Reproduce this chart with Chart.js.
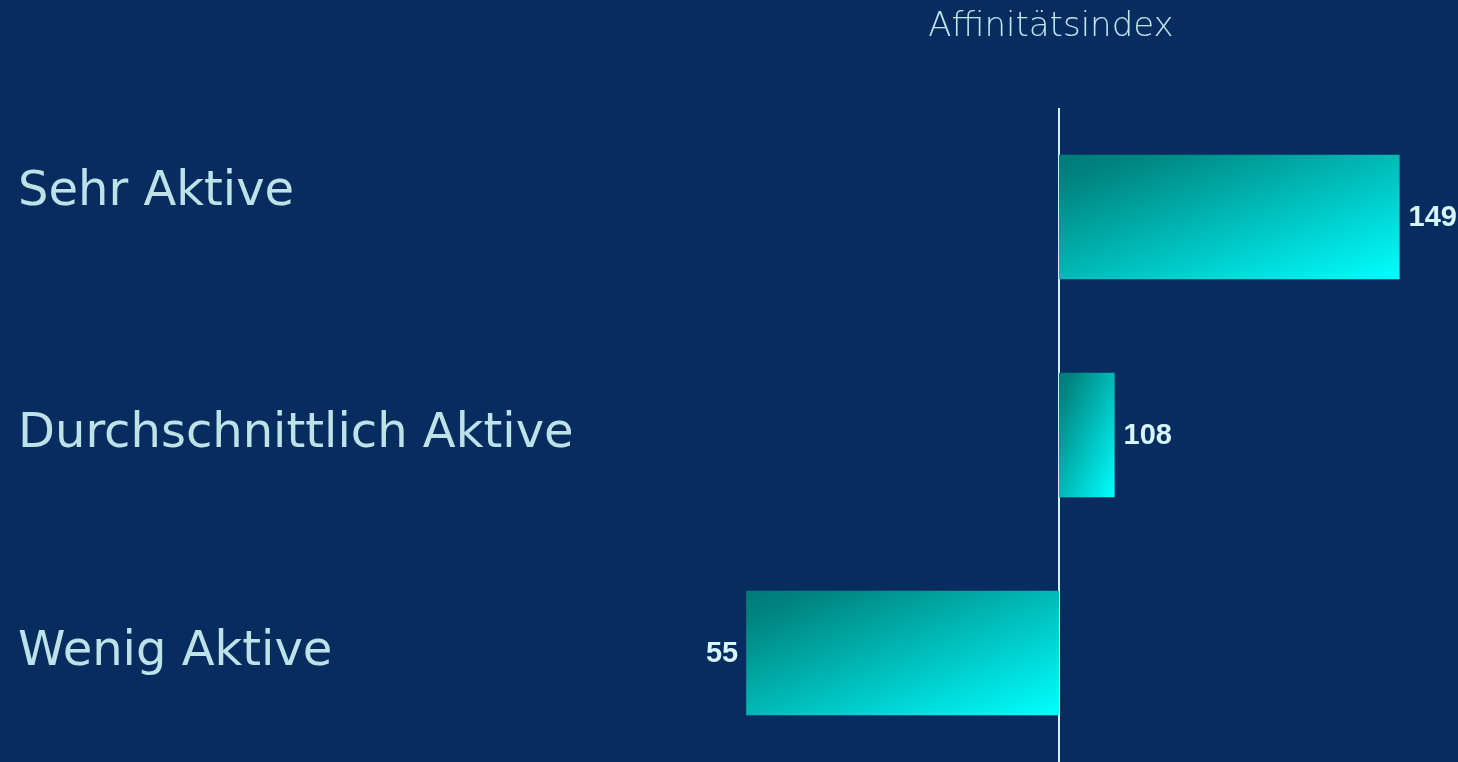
<!DOCTYPE html>
<html>
<head>
<meta charset="utf-8">
<script src="https://cdn.jsdelivr.net/npm/chart.js@4.4.1/dist/chart.umd.min.js"></script>
<style>
  html, body { margin: 0; padding: 0; background: #062c60; }
  #wrap { width: 1458px; height: 762px; }
</style>
</head>
<body>
<div id="wrap"><canvas id="myChart"></canvas></div>
<script>
// Daten
const categories = ['Sehr Aktive', 'Durchschnittlich Aktive', 'Wenig Aktive'];
const values = [149, 108, 55];
const baseline = 100;
const axisTitle = 'Affinitätsindex';

// Balken laufen von der 100er-Linie bis zum Wert
const bars = values.map(v => [baseline, v]);

const textColor = '#bde3e8';
const barPct = 0.57;

// Verlauf pro Balken: dunkel oben links, hell unten rechts
function barGradient(c) {
  const chart = c.chart;
  if (!chart.chartArea) return '#00c0c0';
  const xs = chart.scales.x, ys = chart.scales.y;
  const i = c.dataIndex;
  const a = xs.getPixelForValue(values[i]), b = xs.getPixelForValue(baseline);
  const left = Math.min(a, b), right = Math.max(a, b);
  const h = Math.abs(ys.getPixelForValue(1) - ys.getPixelForValue(0)) * barPct;
  const top = ys.getPixelForValue(i) - h / 2;
  const w = right - left;
  const k = 2 * w * h / (w * w + h * h);
  const g = chart.ctx.createLinearGradient(left, top, left + h * k, top + w * k);
  g.addColorStop(0, '#007a78');
  g.addColorStop(0.12, '#00847f');
  g.addColorStop(1, '#00ffff');
  return g;
}

// Wertebeschriftung neben den Balken
const valueLabels = {
  id: 'valueLabels',
  afterDatasetsDraw(chart) {
    const ctx = chart.ctx;
    const xs = chart.scales.x, ys = chart.scales.y;
    ctx.save();
    ctx.font = 'bold 29px "Liberation Sans", Arial, sans-serif';
    ctx.fillStyle = '#d6f6fa';
    ctx.textBaseline = 'middle';
    values.forEach((v, i) => {
      const x = xs.getPixelForValue(v);
      const y = ys.getPixelForValue(i) + 1;
      if (v >= baseline) {
        ctx.textAlign = 'left';
        ctx.fillText(String(v), x + 9, y);
      } else {
        ctx.textAlign = 'right';
        ctx.fillText(String(v), x - 8, y);
      }
    });
    ctx.restore();
  }
};

new Chart(document.getElementById('myChart'), {
  type: 'bar',
  data: {
    labels: categories,
    datasets: [{
      data: bars,
      backgroundColor: barGradient,
      borderWidth: 0,
      barPercentage: barPct,
      categoryPercentage: 1
    }]
  },
  options: {
    indexAxis: 'y',
    responsive: true,
    maintainAspectRatio: false,
    animation: false,
    layout: { padding: { left: 18, right: 0, top: 0, bottom: 0 } },
    plugins: {
      legend: { display: false },
      tooltip: { enabled: false }
    },
    scales: {
      x: {
        position: 'top',
        min: 40.3,
        max: 157.4,
        afterBuildTicks: s => { s.ticks = [{ value: baseline }]; },
        afterFit: s => { s.height = 108; s.paddingLeft = 0; s.paddingRight = 0; },
        ticks: { display: false },
        border: { display: false },
        grid: { color: '#d2f0f4', lineWidth: 2, drawTicks: false },
        title: {
          display: true,
          text: axisTitle,
          color: '#c2e6ea',
          font: { family: '"DejaVu Sans", sans-serif', size: 34, weight: 200 },
          padding: { top: 7, bottom: 0 }
        }
      },
      y: {
        afterFit: s => { s.width = 626; s.paddingTop = 0; s.paddingBottom = 0; },
        grid: { display: false },
        border: { display: false },
        ticks: {
          crossAlign: 'far',
          color: textColor,
          font: { family: '"DejaVu Sans", sans-serif', size: 48, lineHeight: 1.0 },
          // erste Beschriftung sitzt im Original etwas hoeher
          callback: function (val, i) {
            const lbl = this.getLabelForValue(val);
            return i === 0 ? [lbl, ''] : lbl;
          }
        }
      }
    }
  },
  plugins: [valueLabels]
});
</script>
</body>
</html>
